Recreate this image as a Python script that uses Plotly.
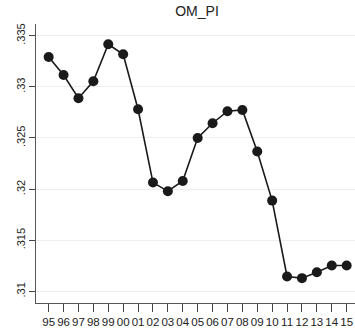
import plotly.graph_objects as go

# Year labels (two-digit) and OM_PI values per year
years = ["95", "96", "97", "98", "99", "00", "01", "02", "03", "04", "05",
         "06", "07", "08", "09", "10", "11", "12", "13", "14", "15"]
om_pi = [0.33292, 0.33116, 0.32888, 0.33054, 0.33416, 0.33318, 0.32781,
         0.32064, 0.31980, 0.32080, 0.32500, 0.32644, 0.32762, 0.32774,
         0.32367, 0.31888, 0.31146, 0.31130, 0.31188, 0.31253, 0.31253]

y_tickvals = [0.31, 0.315, 0.32, 0.325, 0.33, 0.335]
y_ticktext = [".31", ".315", ".32", ".325", ".33", ".335"]

x_pos = list(range(len(years)))

fig = go.Figure(
    go.Scatter(
        x=x_pos,
        y=om_pi,
        mode="lines+markers",
        line=dict(color="#1a1a1a", width=1.6),
        marker=dict(color="#1a1a1a", size=10),
        showlegend=False,
    )
)

fig.update_layout(
    width=355,
    height=331,
    margin=dict(l=36, r=0, t=24, b=28),
    paper_bgcolor="white",
    plot_bgcolor="white",
    font=dict(family="Liberation Sans, Arial, sans-serif", color="#222222"),
    title=dict(
        text="OM_PI",
        x=0.555,
        xanchor="center",
        y=0.965,
        yanchor="middle",
        font=dict(size=14, color="#222222"),
    ),
)

fig.update_xaxes(
    range=[-0.85, 20.56],
    tickmode="array",
    tickvals=x_pos,
    ticktext=years,
    tickangle=0,
    ticks="outside",
    ticklen=8,
    tickwidth=1,
    tickcolor="#444444",
    tickfont=dict(size=11.5),
    showgrid=False,
    zeroline=False,
    showline=True,
    linecolor="#555555",
    linewidth=1,
)

fig.update_yaxes(
    range=[0.30887, 0.33614],
    tickmode="array",
    tickvals=y_tickvals,
    ticktext=y_ticktext,
    tickangle=-90,
    ticks="outside",
    ticklen=6,
    tickwidth=1,
    tickcolor="#444444",
    tickfont=dict(size=11),
    showgrid=True,
    gridcolor="#eeeeee",
    gridwidth=1,
    zeroline=False,
    showline=True,
    linecolor="#555555",
    linewidth=1,
)

fig.write_html("out.html")
